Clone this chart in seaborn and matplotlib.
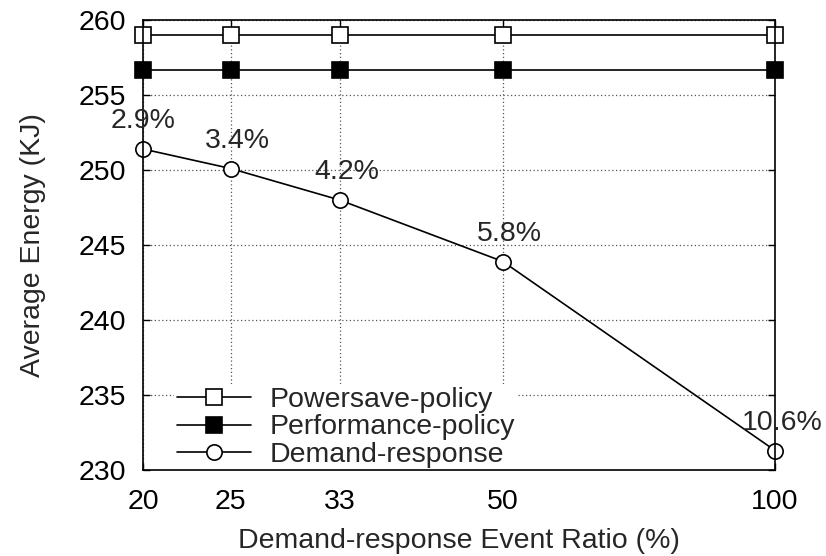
import matplotlib
matplotlib.use("Agg")
import matplotlib.pyplot as plt
import seaborn as sns
import pandas as pd
from matplotlib.ticker import FixedLocator, FixedFormatter, NullLocator
from matplotlib.lines import Line2D

ratios = [20, 25, 33, 50, 100]
powersave = [259.0, 259.0, 259.0, 259.0, 259.0]
performance = [256.7, 256.7, 256.7, 256.7, 256.7]
demand = [251.4, 250.1, 248.0, 243.9, 231.3]
savings = ["2.9%", "3.4%", "4.2%", "5.8%", "10.6%"]
series_names = ["Powersave-policy", "Performance-policy", "Demand-response"]
y_ticks = [230, 235, 240, 245, 250, 255, 260]

rows = []
for name, vals in zip(series_names, [powersave, performance, demand]):
    for x, v in zip(ratios, vals):
        rows.append({"ratio": x, "energy": v, "series": name})
df = pd.DataFrame(rows)

sns.set_style("ticks")
plt.rcParams["font.family"] = ["Liberation Sans", "DejaVu Sans"]
plt.rcParams["font.size"] = 20.5
FS = 20.5

fig = plt.figure(figsize=(8.26, 5.56), dpi=100)
ax = fig.add_axes([143/826, 1-470/556, (775-143)/826, (470-20)/556])

markers = {"Powersave-policy": "s", "Performance-policy": "s", "Demand-response": "o"}
sns.lineplot(data=df, x="ratio", y="energy", hue="series", style="series",
             markers=markers, dashes=False, palette=["black"]*3, ax=ax,
             legend=False, linewidth=1.2, markersize=11)

lines = ax.get_lines()
faces = ["white", "black", "white"]
for ln, fc in zip(lines, faces):
    ln.set_markerfacecolor(fc)
    ln.set_markeredgecolor("black")
    ln.set_markeredgewidth(1.2)
    ln.set_clip_on(False)
    ln.set_zorder(5)

ax.set_xscale("log")
ax.set_xlim(20, 100)
ax.set_ylim(230, 260)
ax.xaxis.set_major_locator(FixedLocator(ratios))
ax.xaxis.set_major_formatter(FixedFormatter([str(r) for r in ratios]))
ax.xaxis.set_minor_locator(NullLocator())
ax.set_yticks(y_ticks)

ax.grid(True, which="major", linestyle=(0, (1, 2)), color="#555555", linewidth=0.9)
ax.tick_params(axis="both", which="major", direction="in", length=5, width=1,
               top=True, right=True, labelsize=FS, colors="black")
ax.tick_params(axis="y", pad=12)
ax.tick_params(axis="x", pad=14)
for sp in ax.spines.values():
    sp.set_linewidth(1.2)
    sp.set_color("black")
    sp.set_zorder(6)

ax.set_xlabel("Demand-response Event Ratio (%)", fontsize=FS, labelpad=9)
ax.set_ylabel("Average Energy (KJ)", fontsize=FS, labelpad=24)

for x, v, s in zip(ratios, demand, savings):
    dx = 0 if x == 20 else 5
    ax.annotate(s, (x, v), xytext=(dx, 20), textcoords="offset points",
                ha="center", va="center", fontsize=FS, zorder=7,
                annotation_clip=False)

handles = [Line2D([], [], color="black", lw=1.2, marker=m, markersize=11,
                  markerfacecolor=fc, markeredgecolor="black", markeredgewidth=1.2)
           for m, fc in zip(["s", "s", "o"], faces)]
leg = ax.legend(handles, series_names, loc="lower left",
                bbox_to_anchor=(0.045, -0.008), frameon=True, fontsize=FS,
                handlelength=2.6, handletextpad=0.65, labelspacing=0.05,
                borderpad=0.1, borderaxespad=0.1, fancybox=False)
leg.get_frame().set_edgecolor("none")
leg.get_frame().set_facecolor("white")
leg.get_frame().set_alpha(1)
leg.set_zorder(4)

fig.savefig("out.png", dpi=100)
